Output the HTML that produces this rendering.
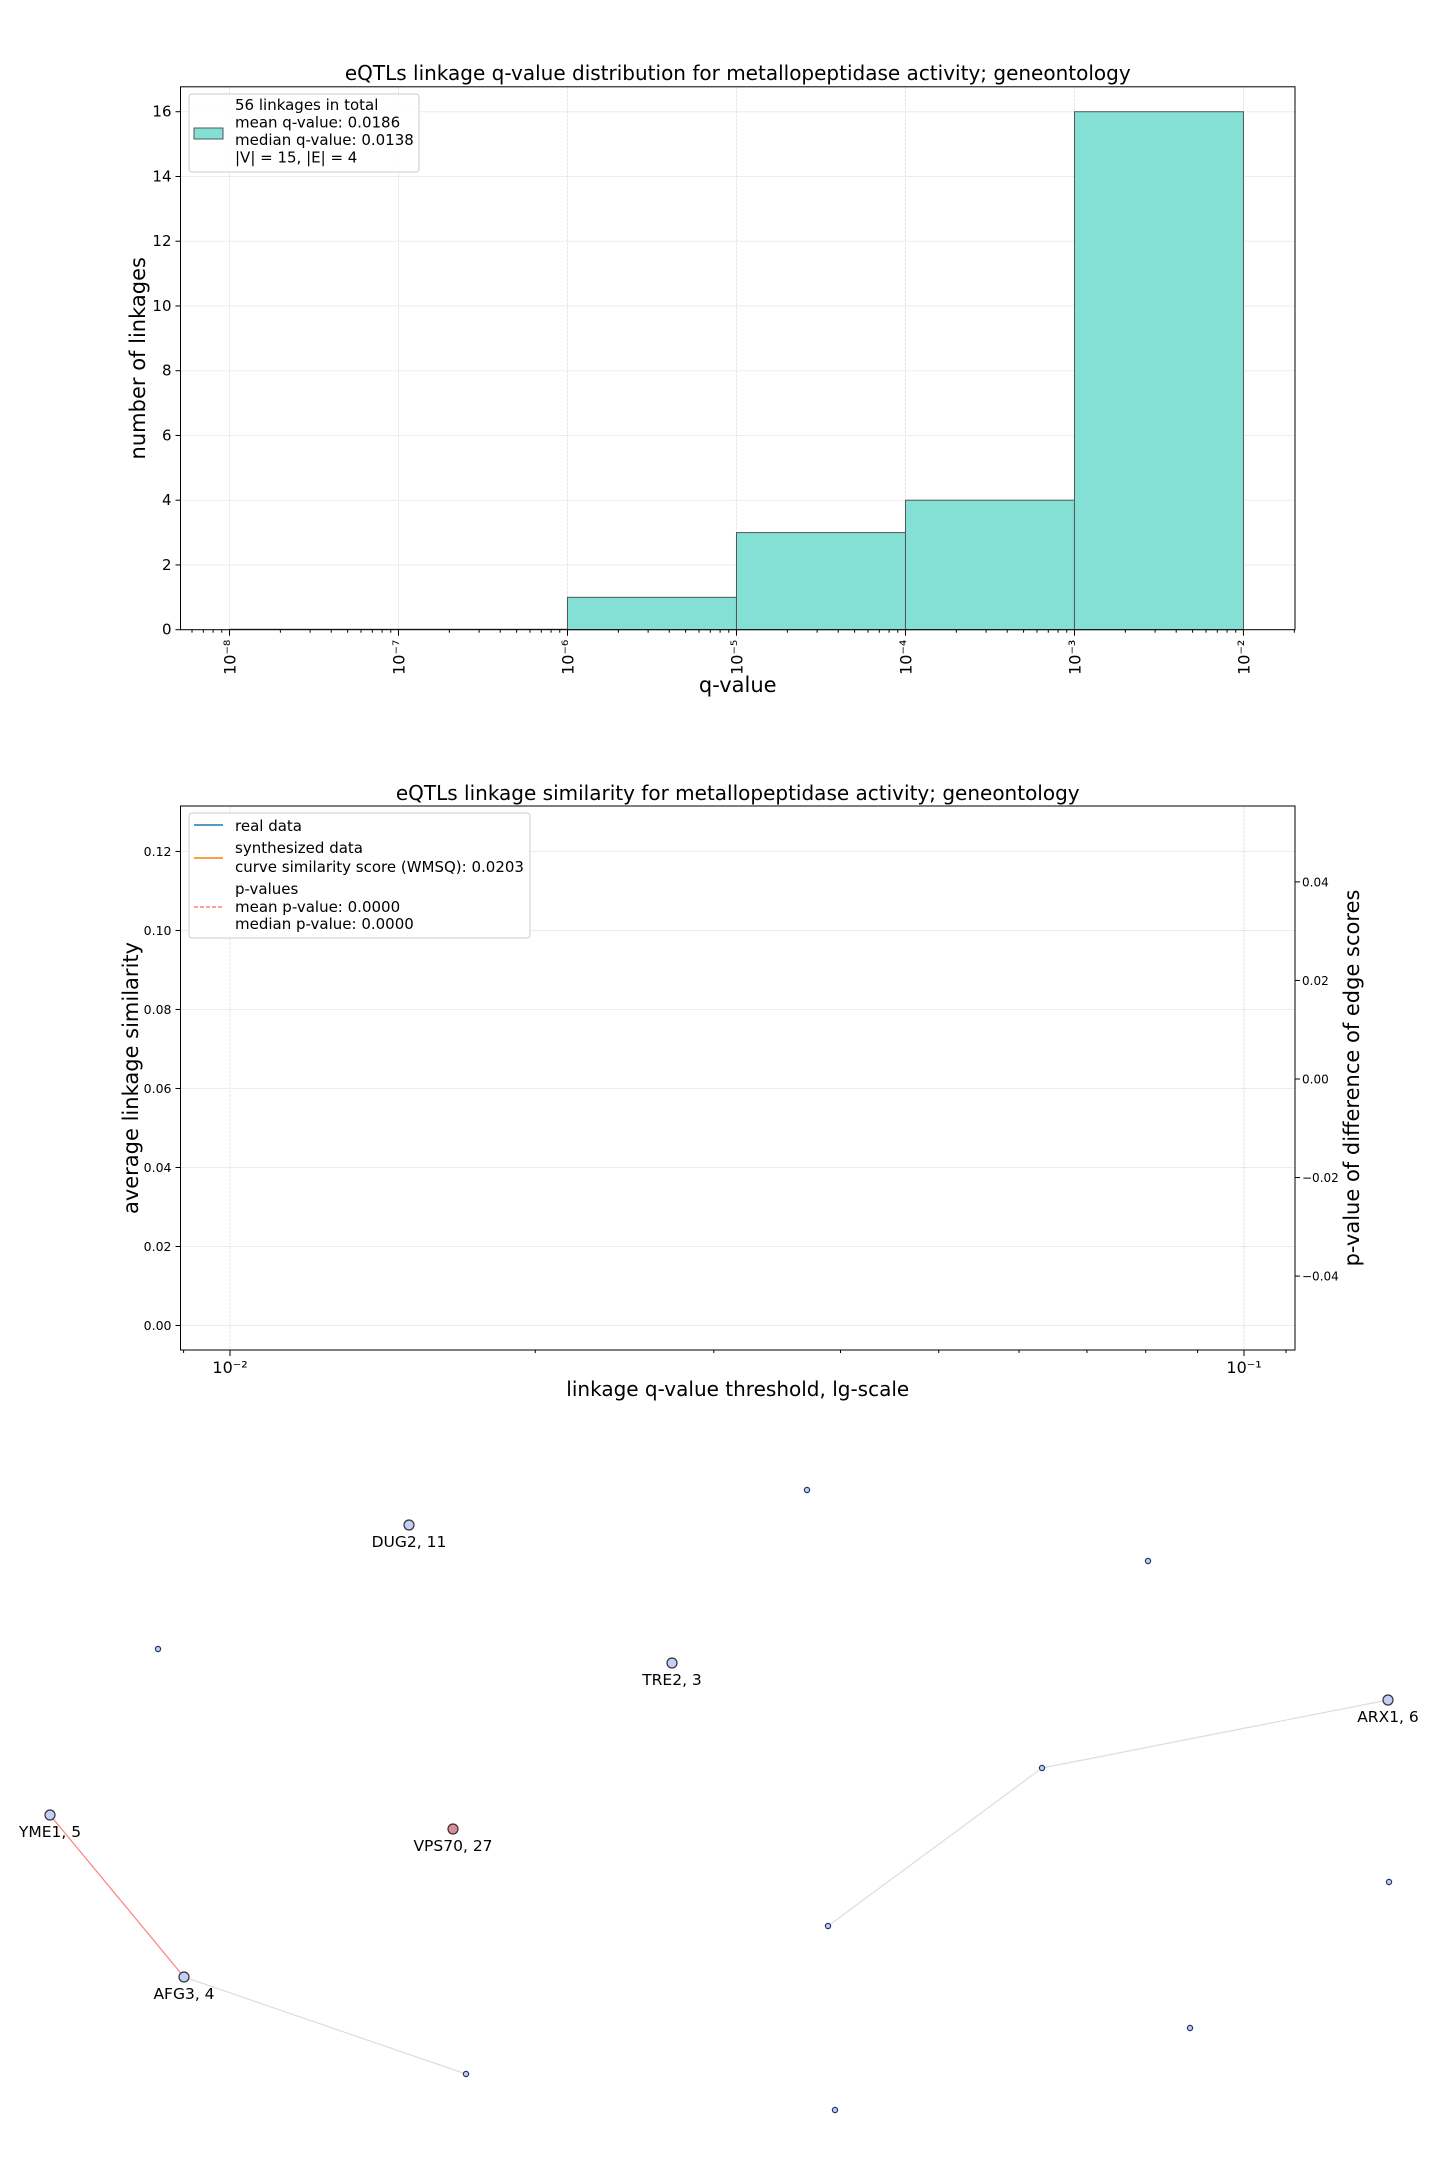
<!DOCTYPE html>
<html><head><meta charset="utf-8"><style>
body{margin:0;background:#fff}
svg{display:block;font-family:"DejaVu Sans","Liberation Sans",sans-serif}
</style></head><body>
<svg id="s" width="1440" height="2160" viewBox="0 0 1440 2160"></svg>
<script>
const histBinsLog = [-8,-7,-6,-5,-4,-3,-2];
const histCounts = [0,0,1,3,4,16];
const histYTicks = [0,2,4,6,8,10,12,14,16];
const histXTickExp = [-8,-7,-6,-5,-4,-3,-2];
const simYTicks = [0,0.02,0.04,0.06,0.08,0.10,0.12];
const simY2Ticks = [-0.04,-0.02,0,0.02,0.04];
const netNodes = [
 {id:'n1',x:807,y:1490,big:false,label:''},
 {id:'DUG2',x:409,y:1525,big:true,label:'DUG2, 11'},
 {id:'n2',x:1148,y:1561,big:false,label:''},
 {id:'n3',x:158,y:1649,big:false,label:''},
 {id:'TRE2',x:672,y:1663,big:true,label:'TRE2, 3'},
 {id:'ARX1',x:1388,y:1700,big:true,label:'ARX1, 6'},
 {id:'n4',x:1042,y:1768,big:false,label:''},
 {id:'YME1',x:50,y:1815,big:true,label:'YME1, 5'},
 {id:'VPS70',x:453,y:1829,big:true,label:'VPS70, 27',pink:true},
 {id:'n5',x:1389,y:1882,big:false,label:''},
 {id:'n6',x:828,y:1926,big:false,label:''},
 {id:'AFG3',x:184,y:1977,big:true,label:'AFG3, 4'},
 {id:'n7',x:1190,y:2028,big:false,label:''},
 {id:'n8',x:466,y:2074,big:false,label:''},
 {id:'n9',x:835,y:2110,big:false,label:''}
];
const netEdges = [['ARX1','n4','#dddddd'],['n4','n6','#dddddd'],['YME1','AFG3','#ff7f7f'],['AFG3','n8','#dddddd']];

const S=document.getElementById('s');const NS='http://www.w3.org/2000/svg';
function el(t,a,txt){const e=document.createElementNS(NS,t);for(const k in a)e.setAttribute(k,a[k]);if(txt!==undefined)e.textContent=txt;S.appendChild(e);return e;}
const sup={'-':'⁻','0':'⁰','1':'¹','2':'²','3':'³','4':'⁴','5':'⁵','6':'⁶','7':'⁷','8':'⁸','9':'⁹'};
function supStr(n){return String(n).split('').map(c=>sup[c]).join('');}

// ---------- Chart 1 ----------
const L1=180.5,R1=1295,T1=86.8,B1=629.7;
const xmin1=-8.29,xmax1=-1.695,ymax1=16.77;
const x1=v=>L1+(v-xmin1)/(xmax1-xmin1)*(R1-L1);
const y1=v=>B1-v/ymax1*(B1-T1);
histXTickExp.forEach(e=>{let g=el('line',{x1:x1(e),x2:x1(e),y1:T1,y2:B1,stroke:'#e6e6e6','stroke-dasharray':'3,1'});});
histYTicks.forEach(v=>{let g=el('line',{x1:L1,x2:R1,y1:y1(v),y2:y1(v),stroke:'#e6e6e6','stroke-dasharray':'3,1'});});
histCounts.forEach((c,i)=>{if(c<=0)return;const b=el('rect',{x:x1(histBinsLog[i]),y:y1(c),width:x1(histBinsLog[i+1])-x1(histBinsLog[i]),height:y1(0)-y1(c),fill:'#84e0d5',stroke:'#555','stroke-width':1});});
el('line',{x1:x1(-8),x2:x1(-6),y1:B1-0.5,y2:B1-0.5,stroke:'#555'});
el('rect',{x:L1,y:T1,width:R1-L1,height:B1-T1,fill:'none',stroke:'#000','stroke-width':1,});
histYTicks.forEach(v=>{el('line',{x1:L1-5,x2:L1,y1:y1(v),y2:y1(v),stroke:'#000'});const t=el('text',{x:L1-9,y:y1(v)+5,'text-anchor':'end','font-size':15},String(v));});
for(let e=-9;e<=-2;e++){for(let m=2;m<=9;m++){const v=e+Math.log10(m);if(v<xmin1||v>xmax1)continue;el('line',{x1:x1(v),x2:x1(v),y1:B1,y2:B1+3,stroke:'#000'});}}
histXTickExp.forEach(e=>{el('line',{x1:x1(e),x2:x1(e),y1:B1,y2:B1+6,stroke:'#000'});const t=el('text',{x:0,y:0,'font-size':16,'text-anchor':'end',transform:`translate(${x1(e)+6},${B1+10}) rotate(-90)`},'10'+supStr(e));});
el('text',{x:(L1+R1)/2,y:80,'text-anchor':'middle','font-size':20,},'eQTLs linkage q-value distribution for metallopeptidase activity; geneontology');
el('text',{x:(L1+R1)/2,y:692,'text-anchor':'middle','font-size':21,},'q-value');
el('text',{x:0,y:0,'text-anchor':'middle','font-size':21,transform:`translate(145,${(T1+B1)/2}) rotate(-90)`,},'number of linkages');
el('rect',{x:189,y:94,width:230,height:78,rx:3,fill:'#fff',stroke:'#ccc','fill-opacity':0.85,});
el('rect',{x:194,y:128,width:29,height:11,fill:'#84e0d5',stroke:'#555',});
['56 linkages in total','mean q-value: 0.0186','median q-value: 0.0138','|V| = 15, |E| = 4'].forEach((s,i)=>{el('text',{x:235,y:110+i*17.5,'font-size':15,},s);});

// ---------- Chart 2 ----------
const L2=180.5,R2=1295,T2=806,B2=1350;
const xmin2=Math.log10(0.01)-(230-L2)/1014,xmax2=-1+(R2-1244)/1014;
const x2=v=>L2+(Math.log10(v)-xmin2)/(xmax2-xmin2)*(R2-L2);
const ymin2=-0.0062,ymax2=0.1315,y2min=-0.055,y2max=0.0554;
const y2=v=>B2-(v-ymin2)/(ymax2-ymin2)*(B2-T2);
const yr=v=>B2-(v-y2min)/(y2max-y2min)*(B2-T2);
[0.01,0.1].forEach(v=>{el('line',{x1:x2(v),x2:x2(v),y1:T2,y2:B2,stroke:'#e6e6e6','stroke-dasharray':'3,1',});});
simYTicks.forEach(v=>{let g=el('line',{x1:L2,x2:R2,y1:y2(v),y2:y2(v),stroke:'#e6e6e6','stroke-dasharray':'3,1'});});
el('rect',{x:L2,y:T2,width:R2-L2,height:B2-T2,fill:'none',stroke:'#000',});
simYTicks.forEach(v=>{el('line',{x1:L2-5,x2:L2,y1:y2(v),y2:y2(v),stroke:'#000'});const t=el('text',{x:L2-9,y:y2(v)+4.5,'text-anchor':'end','font-size':12.5},v.toFixed(2));});
simY2Ticks.forEach(v=>{el('line',{x1:R2,x2:R2+5,y1:yr(v),y2:yr(v),stroke:'#000'});const t=el('text',{x:R2+7,y:yr(v)+4.5,'font-size':12},(v<0?'−':'')+Math.abs(v).toFixed(2));});
for(let m=2;m<=9;m++){const v=m*0.01;el('line',{x1:x2(v),x2:x2(v),y1:B2,y2:B2+3,stroke:'#000'});}
el('line',{x1:x2(0.009),x2:x2(0.009),y1:B2,y2:B2+3,stroke:'#000'});
el('line',{x1:x2(0.11),x2:x2(0.11),y1:B2,y2:B2+3,stroke:'#000'});
[[0.01,'-2'],[0.1,'-1']].forEach(([v,e])=>{el('line',{x1:x2(v),x2:x2(v),y1:B2,y2:B2+6,stroke:'#000'});const t=el('text',{x:x2(v),y:B2+23,'text-anchor':'middle','font-size':16},'10'+supStr(e));});
el('text',{x:(L2+R2)/2,y:800,'text-anchor':'middle','font-size':20,},'eQTLs linkage similarity for metallopeptidase activity; geneontology');
el('text',{x:(L2+R2)/2,y:1396,'text-anchor':'middle','font-size':20,},'linkage q-value threshold, lg-scale');
el('text',{x:0,y:0,'text-anchor':'middle','font-size':21,transform:`translate(138,${(T2+B2)/2}) rotate(-90)`,},'average linkage similarity');
el('text',{x:0,y:0,'text-anchor':'middle','font-size':21,transform:`translate(1359,${(T2+B2)/2}) rotate(-90)`,},'p-value of difference of edge scores');
el('rect',{x:189,y:813,width:341,height:125,rx:3,fill:'#fff',stroke:'#ccc',});
el('line',{x1:194,x2:223,y1:825,y2:825,stroke:'#1f77b4','stroke-width':1.5,});
el('line',{x1:194,x2:223,y1:858,y2:858,stroke:'#ff7f0e','stroke-width':1.5,});
el('line',{x1:194,x2:223,y1:907,y2:907,stroke:'#ff7f7f','stroke-width':1.5,'stroke-dasharray':'4,2',});
[['real data',831],['synthesized data',853],['curve similarity score (WMSQ): 0.0203',872],['p-values',894],['mean p-value: 0.0000',912],['median p-value: 0.0000',929]].forEach(([s,yy])=>{el('text',{x:235,y:yy,'font-size':15,},s);});

// ---------- Network ----------
const byId={};netNodes.forEach(n=>byId[n.id]=n);
netEdges.forEach(([a,b,c])=>{const l=el('line',{x1:byId[a].x,y1:byId[a].y,x2:byId[b].x,y2:byId[b].y,stroke:c,'stroke-width':1.2});});
netNodes.forEach(n=>{const c=el('circle',{cx:n.x,cy:n.y,r:n.big?5:2.6,fill:n.pink?'#db8a9a':'#c2d0f5',stroke:n.big?'#333':'#223366','stroke-width':1.2});
 if(n.label){const t=el('text',{x:n.x,y:n.y+22,'text-anchor':'middle','font-size':15.5},n.label);}});
</script>
</body></html>
